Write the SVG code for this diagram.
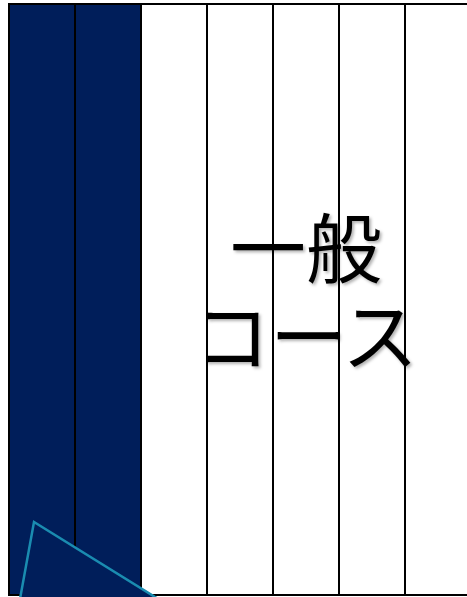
<svg xmlns="http://www.w3.org/2000/svg" width="467" height="597" viewBox="0 0 467 597">
<style>
.col{stroke:#000;stroke-width:2}
.navy{fill:#001E5A}
.lbl{font-family:"Noto Sans CJK JP","Noto Sans CJK SC",sans-serif;font-size:76px;fill:#000;text-anchor:middle}
</style>
<defs>
<filter id="sh" x="-10%" y="-10%" width="120%" height="130%">
<feDropShadow dx="2" dy="2" stdDeviation="1.5" flood-color="#000" flood-opacity="0.3"/>
</filter>
</defs>
<rect width="467" height="597" fill="#fff"/>
<g id="columns">
<rect class="navy" x="9" y="4" width="132" height="591"/>
<rect x="9" y="4" width="470" height="591" fill="none" class="col"/>
<line class="col" x1="75" y1="4" x2="75" y2="595"/>
<line class="col" x1="141" y1="4" x2="141" y2="595"/>
<line class="col" x1="207" y1="4" x2="207" y2="595"/>
<line class="col" x1="273" y1="4" x2="273" y2="595"/>
<line class="col" x1="339" y1="4" x2="339" y2="595"/>
<line class="col" x1="405" y1="4" x2="405" y2="595"/>
</g>
<g id="label" filter="url(#sh)">
<text class="lbl"><tspan x="306" y="277">一般</tspan><tspan x="306" y="365">コース</tspan></text>
</g>
<g id="triangle">
<polygon points="34,522 18,610 176,610" fill="#001E5A" stroke="#1A8CB0" stroke-width="2.5"/>
</g>
</svg>
